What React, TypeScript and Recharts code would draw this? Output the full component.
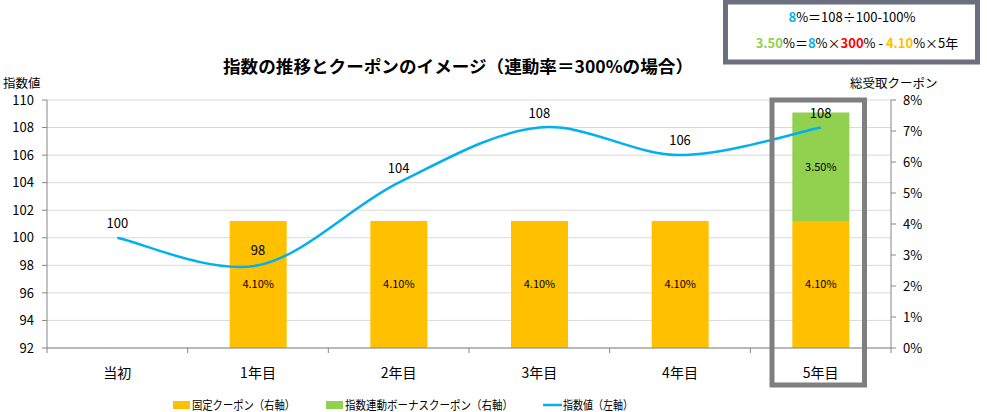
import React from 'react';
import { ComposedChart, Bar, Line, XAxis, YAxis, CartesianGrid, LabelList } from 'recharts';

const categories = ['当初', '1年目', '2年目', '3年目', '4年目', '5年目'];
const fixedCoupon: (number | null)[] = [null, 4.1, 4.1, 4.1, 4.1, 4.1];
const bonusCoupon: (number | null)[] = [null, null, null, null, null, 3.5];
const indexValues = [100, 98, 104, 108, 106, 108];
const leftTicks = [92, 94, 96, 98, 100, 102, 104, 106, 108, 110];
const rightTicks = [0, 1, 2, 3, 4, 5, 6, 7, 8];

const data = categories.map((name, i) => ({
  name,
  fixed: fixedCoupon[i],
  bonus: bonusCoupon[i],
  index: indexValues[i],
}));

const FONT = '"Noto Sans CJK JP", "Noto Sans", sans-serif';
const W = 987;
const H = 412;
const LEFT_W = 47;
const RIGHT_W = 96;
const TOP = 100;
const XAXIS_H = 64;
const BAND = (W - LEFT_W - RIGHT_W) / categories.length;
const AXIS_COLOR = '#868686';

// Excel-like smoothed line (Catmull-Rom / cardinal with tension 0)
const smoothCurve: any = (context: any) => {
  let pts: [number, number][] = [];
  return {
    areaStart() {},
    areaEnd() {},
    lineStart() {
      pts = [];
    },
    point(x: number, y: number) {
      pts.push([+x, +y]);
    },
    lineEnd() {
      if (!pts.length) return;
      context.moveTo(pts[0][0], pts[0][1]);
      for (let i = 0; i < pts.length - 1; i++) {
        const p0 = pts[i - 1] || pts[i];
        const p1 = pts[i];
        const p2 = pts[i + 1];
        const p3 = pts[i + 2] || pts[i + 1];
        const c1x = p1[0] + (p2[0] - p0[0]) / 6;
        const c1y = p1[1] + (p2[1] - p0[1]) / 6;
        const c2x = p2[0] - (p3[0] - p1[0]) / 6;
        const c2y = p2[1] - (p3[1] - p1[1]) / 6;
        context.bezierCurveTo(c1x, c1y, c2x, c2y, p2[0], p2[1]);
      }
    },
  };
};

const XTick = (props: any) => {
  const { x, y, payload, index } = props;
  const axisY = y - 7;
  return (
    <g>
      <line x1={x - BAND / 2} x2={x - BAND / 2} y1={axisY} y2={axisY + 5} stroke={AXIS_COLOR} />
      {index === categories.length - 1 && (
        <line x1={x + BAND / 2} x2={x + BAND / 2} y1={axisY} y2={axisY + 5} stroke={AXIS_COLOR} />
      )}
      <text x={x} y={axisY + 24} textAnchor="middle" dominantBaseline="central" fontSize={14} fill="#000" fontFamily={FONT}>
        {payload.value}
      </text>
    </g>
  );
};

const pctLabel = (v: any) => (v == null ? '' : `${Number(v).toFixed(2)}%`);

export default function App() {
  return (
    <div style={{ position: 'absolute', left: 0, top: 0, width: W, height: H, background: '#fff' }}>
      <ComposedChart
        width={W}
        height={H}
        data={data}
        margin={{ top: TOP, right: 0, bottom: 0, left: 0 }}
        style={{ fontFamily: FONT }}
      >
        <CartesianGrid yAxisId="left" vertical={false} stroke="#D9D9D9" />
        <XAxis
          dataKey="name"
          height={XAXIS_H}
          axisLine={{ stroke: AXIS_COLOR }}
          tickLine={false}
          tickSize={5}
          tickMargin={2}
          tick={<XTick />}
          interval={0}
        />
        <YAxis
          yAxisId="left"
          orientation="left"
          width={LEFT_W}
          domain={[92, 110]}
          ticks={leftTicks}
          allowDataOverflow
          axisLine={{ stroke: AXIS_COLOR }}
          tickLine={{ stroke: AXIS_COLOR }}
          tickSize={5}
          tickMargin={8}
          tick={{ fontSize: 13, fill: '#000', fontFamily: FONT }}
        />
        <YAxis
          yAxisId="right"
          orientation="right"
          width={RIGHT_W}
          domain={[0, 8]}
          ticks={rightTicks}
          tickFormatter={(v: number) => `${v}%`}
          axisLine={{ stroke: AXIS_COLOR }}
          tickLine={{ stroke: AXIS_COLOR }}
          tickSize={5}
          tickMargin={7}
          tick={{ fontSize: 13, fill: '#000', fontFamily: FONT, textAnchor: 'start' }}
        />
        <Bar yAxisId="right" dataKey="fixed" stackId="c" fill="#FFC000" barSize={57} isAnimationActive={false}>
          <LabelList dataKey="fixed" position="center" formatter={pctLabel} fontSize={11} fill="#000" fontFamily={FONT} />
        </Bar>
        <Bar yAxisId="right" dataKey="bonus" stackId="c" fill="#92D050" barSize={57} isAnimationActive={false}>
          <LabelList dataKey="bonus" position="center" formatter={pctLabel} fontSize={11} fill="#000" fontFamily={FONT} />
        </Bar>
        <Line
          yAxisId="left"
          dataKey="index"
          type={smoothCurve}
          stroke="#00B0F0"
          strokeWidth={2.5}
          dot={false}
          activeDot={false}
          isAnimationActive={false}
        >
          <LabelList dataKey="index" position="top" offset={10} fontSize={13} fill="#000" fontFamily={FONT} />
        </Line>
      </ComposedChart>

      <svg
        width={W}
        height={H}
        style={{ position: 'absolute', left: 0, top: 0, pointerEvents: 'none', fontFamily: FONT }}
      >
        {/* title */}
        <text x={223} y={65} textLength={470} lengthAdjust="spacingAndGlyphs" dominantBaseline="central" fontSize={17} fontWeight="bold" fill="#000">
          指数の推移とクーポンのイメージ（連動率＝300%の場合）
        </text>
        {/* axis titles */}
        <text x={3} y={82} dominantBaseline="central" fontSize={12.5} fill="#000">指数値</text>
        <text x={850} y={82} dominantBaseline="central" fontSize={12.5} fill="#000">総受取クーポン</text>

        {/* formula box */}
        <rect x={725.5} y={2} width={252} height={60} fill="#fff" stroke="#6B6F7E" strokeWidth={5} />
        <text x={852} y={16} textAnchor="middle" dominantBaseline="central" fontSize={13} fill="#000">
          <tspan fill="#00B0F0" fontWeight="bold">8</tspan>
          <tspan>%＝108÷100-100%</tspan>
        </text>
        <text x={857} y={42} textAnchor="middle" dominantBaseline="central" fontSize={13} fill="#000">
          <tspan fill="#92D050" fontWeight="bold">3.50</tspan>
          <tspan>%＝</tspan>
          <tspan fill="#00B0F0" fontWeight="bold">8</tspan>
          <tspan>%×</tspan>
          <tspan fill="#FF0000" fontWeight="bold">300</tspan>
          <tspan>% - </tspan>
          <tspan fill="#FFC000" fontWeight="bold">4.10</tspan>
          <tspan>%×5年</tspan>
        </text>

        {/* highlight of 5年目 */}
        <rect x={772} y={100} width={92.5} height={285} fill="none" stroke="#7F7F7F" strokeWidth={5} />

        {/* legend */}
        <rect x={173} y={401} width={17} height={8} fill="#FFC000" />
        <text x={192} y={404} textLength={103} lengthAdjust="spacingAndGlyphs" dominantBaseline="central" fontSize={12} fill="#000">固定クーポン（右軸）</text>
        <rect x={326} y={401} width={17} height={8} fill="#92D050" />
        <text x={345} y={404} textLength={168} lengthAdjust="spacingAndGlyphs" dominantBaseline="central" fontSize={12} fill="#000">指数連動ボーナスクーポン（右軸）</text>
        <line x1={543} x2={562} y1={405} y2={405} stroke="#00B0F0" strokeWidth={2.5} />
        <text x={563} y={404} textLength={70} lengthAdjust="spacingAndGlyphs" dominantBaseline="central" fontSize={12} fill="#000">指数値（左軸）</text>
      </svg>
    </div>
  );
}
